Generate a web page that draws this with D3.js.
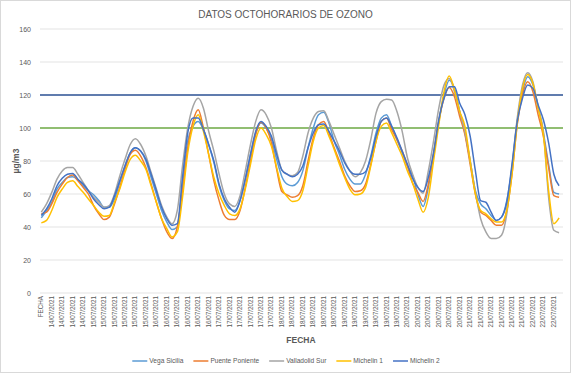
<!DOCTYPE html>
<html>
<head>
<meta charset="utf-8">
<script src="https://cdn.jsdelivr.net/npm/d3@7"></script>
<style>
  body { margin: 0; background: #fff; }
  text { font-family: "Liberation Sans", Arial, sans-serif; }
</style>
</head>
<body>
<div id="chart"></div>
<script>
// valores octohorarios, uno cada 2 horas (categoria 0, 2, 4 ... 198)
var vegaSicilia = [
  45.5,50,55,63,67,70,70.5,68.5,65,62,
  59.5,56,52,52,57,67,77,85,88,86,
  80,70,60,50,43,38.5,40,66,92,101,
  104,99,90,79,65,56,51,50,56,69,
  84,97,103,100,93,81,70.5,66,65,67,
  74,88,100,108,109.5,103,92,84,75,69,
  66,66,72,83,97,106,108,101,93,85,
  77,71,60,52.5,64,84,104,120,129,124,
  110,97,80,62,54,51,47,44,46,56,
  76,104,122,131,126,113,97,78,61,60]
var puentePoniente = [
  48,49,54,61,66,70,71.5,68,64,60,
  53,48,44.5,46,54,64,75,84,86.5,83,
  76,66,55,45,37,33,40,62,88,104,
  111,100,84,68,56,47,44.5,44.5,50,64,
  80,96,103.5,100,91,75,61.5,59.5,58,59,
  65,80,94,102,104,97,88,80,71,65,
  61.5,62,66,78,92,104,106,99,93,86,
  77,66.5,61,55.5,66,84,104,118,124.5,119,
  107,96,78,60,49,47,44,41,41,50,
  72,102,120,128,122,108,95,76,59,58]
var valladolidSur = [
  49,54,61,69,74,76,76,72,67,62,
  58,55,52,53,60,71,81,90,93.5,90,
  83,73,63,53,46,42,50,77,100,113,
  118,112,98,86,72,60,54,52.5,59,74,
  90,104,111,108,100,86,74.5,72,71,73,
  83,97,106,110,110.5,104,96,88,80,74,
  70.5,73,80,93,109,116,117.5,117,110,98,
  82,72,64,60.5,74,92,112,126,130,122,
  110,98,80,61,45,37,33,33,35,48,
  76,106,126,133.5,128,112,98,58,38,36.5]
var michelin1 = [
  42.5,44,50,58,63,67,68,64.5,61,57,
  53,49,46.5,47,55,63,73,81,83.5,80,
  75,65,55,45,39,34,37,58,85,101,
  108,98,84,70,60,53,48,47,51,63,
  78,93,100,96,89,76,63.5,58.5,55.5,56,
  62,77,92,100,101.5,95,87,78,70,63,
  59.5,60,64,77,92,101,103,97,90,83,
  74,66.5,57,49,58,80,102,122,131.5,123,
  110,101,80,60,50,48,45,43,43,50,
  72,103,124,132.5,127,112,96,62,42,45.5]
var michelin2 = [
  47,51,57,65,69.5,72,72.5,69,66,62,
  57,53.5,51,52,59,68,77,85,88,86,
  81,72,62,52,45,41,42,70,97,106,
  106,99,90,80,66,57,52,49,56,69,
  84,98,104,101,95,84,74.5,72,70.5,72,
  77,88,97,102,102.5,98,92,86,79,74,
  72,72,73.5,82,95,104,106,101,94,86,
  78,69.5,64,61.5,70,85,105,118,125,125,
  115,108,95,74,56,55,49,44,46,55,
  78,104,118,126,124,114,105,91,72,65]

// etiquetas del eje X (una cada 4 categorias)
var etiquetasX = ["FECHA",
  "14/07/2021","14/07/2021","14/07/2021","14/07/2021",
  "15/07/2021","15/07/2021","15/07/2021","15/07/2021","15/07/2021","15/07/2021",
  "16/07/2021","16/07/2021","16/07/2021","16/07/2021","16/07/2021","16/07/2021",
  "17/07/2021","17/07/2021","17/07/2021","17/07/2021","17/07/2021","17/07/2021",
  "18/07/2021","18/07/2021","18/07/2021","18/07/2021","18/07/2021","18/07/2021",
  "19/07/2021","19/07/2021","19/07/2021","19/07/2021","19/07/2021","19/07/2021",
  "20/07/2021","20/07/2021","20/07/2021","20/07/2021","20/07/2021","20/07/2021",
  "21/07/2021","21/07/2021","21/07/2021","21/07/2021","21/07/2021","21/07/2021",
  "22/07/2021","22/07/2021","22/07/2021"]

var nombres = ["Vega Sicilia", "Puente Poniente", "Valladolid Sur", "Michelin 1", "Michelin 2"]
var colores = ["#5B9BD5", "#ED7D31", "#A5A5A5", "#FFC000", "#4472C4"]
var limites = [120, 100]
var coloresLimite = ["#2F5597", "#70AD47"]
var yTicks = [0, 20, 40, 60, 80, 100, 120, 140, 160]

var series = [vegaSicilia, puentePoniente, valladolidSur, michelin1, michelin2]
var nCategorias = 200
var horas = d3.range(0, nCategorias, 2)

var width = 571
var height = 373
var margin = {left: 40, right: 8, top: 29, bottom: 80}

var svg = d3.select("#chart")
  .append("svg")
    .attr("width", width)
    .attr("height", height)

// borde del grafico
svg.append("rect")
  .attr("x", 0.5).attr("y", 0.5)
  .attr("width", width - 1).attr("height", height - 1)
  .attr("fill", "#fff")
  .attr("stroke", "#d9d9d9")

var x = d3.scaleBand()
  .domain(d3.range(nCategorias))
  .range([margin.left, width - margin.right])
var xc = function(k) { return x(k) + x.bandwidth() / 2 }

var y = d3.scaleLinear()
  .domain([0, 160])
  .range([height - margin.bottom, margin.top])

// titulo
svg.append("text")
  .attr("x", 285.5).attr("y", 18)
  .attr("text-anchor", "middle")
  .attr("font-size", 10)
  .attr("fill", "#595959")
  .text("DATOS OCTOHORARIOS DE OZONO")

// rejilla horizontal
svg.append("g")
  .selectAll("line")
  .data(yTicks)
  .enter()
  .append("line")
    .attr("x1", margin.left).attr("x2", width - margin.right)
    .attr("y1", function(d){ return y(d) }).attr("y2", function(d){ return y(d) })
    .attr("stroke", "#d9d9d9")
    .attr("stroke-width", 0.75)

// eje Y
var yAxis = svg.append("g")
  .attr("transform", "translate(" + (margin.left - 6) + ",0)")
  .call(d3.axisLeft(y).tickValues(yTicks).tickSize(0))
yAxis.select(".domain").remove()
yAxis.selectAll("text")
  .attr("font-family", "Liberation Sans, Arial, sans-serif")
  .attr("font-size", 7)
  .attr("fill", "#595959")

svg.append("text")
  .attr("transform", "translate(19," + ((margin.top + height - margin.bottom) / 2) + ") rotate(-90)")
  .attr("text-anchor", "middle")
  .attr("font-size", 8.5)
  .attr("font-weight", "bold")
  .attr("fill", "#595959")
  .text("µg/m3")

// eje X
var xAxis = svg.append("g")
  .attr("transform", "translate(0," + (height - margin.bottom) + ")")
  .call(d3.axisBottom(x)
    .tickValues(d3.range(0, nCategorias, 4))
    .tickFormat(function(k){ return etiquetasX[k / 4] })
    .tickSize(0))
xAxis.select(".domain").remove()
xAxis.selectAll("text")
  .attr("font-family", "Liberation Sans, Arial, sans-serif")
  .attr("font-size", 6.3)
  .attr("fill", "#595959")
  .attr("text-anchor", "end")
  .attr("dy", "0.32em")
  .attr("transform", "translate(0,3) rotate(-90)")
  .attr("x", 0).attr("y", 0)

svg.append("text")
  .attr("x", 301).attr("y", 343)
  .attr("text-anchor", "middle")
  .attr("font-size", 8.5)
  .attr("font-weight", "bold")
  .attr("fill", "#595959")
  .text("FECHA")

// lineas de limite
svg.append("g")
  .selectAll("line")
  .data(limites)
  .enter()
  .append("line")
    .attr("x1", margin.left).attr("x2", width - margin.right)
    .attr("y1", function(d){ return y(d) }).attr("y2", function(d){ return y(d) })
    .attr("stroke", function(d, i){ return coloresLimite[i] })
    .attr("stroke-width", 1.6)

// series
var line = d3.line()
  .x(function(d, i){ return xc(horas[i]) })
  .y(function(d){ return y(d) })
  .curve(d3.curveMonotoneX)

svg.append("g")
  .selectAll("path")
  .data(series)
  .enter()
  .append("path")
    .attr("d", line)
    .attr("fill", "none")
    .attr("stroke", function(d, i){ return colores[i] })
    .attr("stroke-width", 1.5)
    .attr("stroke-linejoin", "round")

// leyenda
var leyenda = svg.append("g")
var pos = 0
nombres.forEach(function(n, i) {
  var g = leyenda.append("g")
  g.append("line")
    .attr("x1", 0).attr("x2", 15)
    .attr("y1", 0).attr("y2", 0)
    .attr("stroke", colores[i])
    .attr("stroke-width", 1.5)
  var t = g.append("text")
    .attr("x", 17).attr("y", 2.3)
    .attr("font-size", 6.6)
    .attr("fill", "#595959")
    .text(n)
  var w = 17 + t.node().getComputedTextLength()
  g.attr("transform", "translate(" + pos + ",0)")
  pos += w + 10
})
var total = pos - 10
leyenda.attr("transform", "translate(" + (286 - total / 2) + ",361)")
</script>
</body>
</html>
